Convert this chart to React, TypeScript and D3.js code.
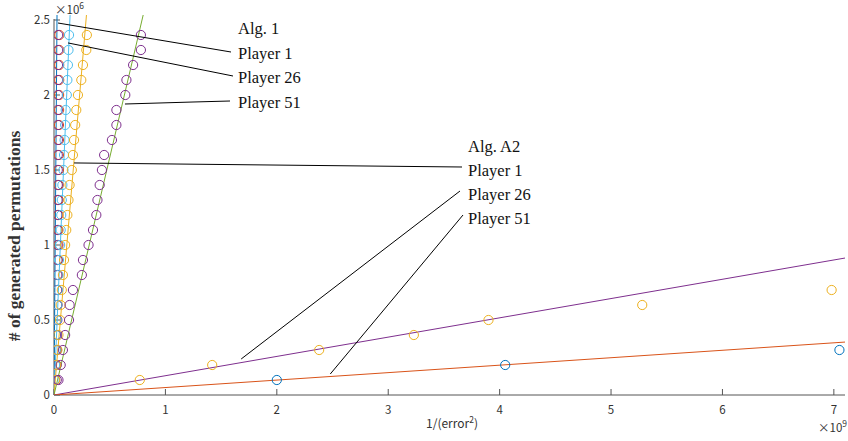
import React from "react";
import * as d3 from "d3";

// ---- data (x in 1e9 units, y in 1e6 units) ----
const alg1Y = [0.1,0.2,0.3,0.4,0.5,0.6,0.7,0.8,0.9,1.0,1.1,1.2,1.3,1.4,1.5,1.6,1.7,1.8,1.9,2.0,2.1,2.2,2.3,2.4];
const alg1RedX = [0.01,0.015,0.02,0.02,0.025,0.03,0.03,0.035,0.035,0.04,0.04,0.04,0.042,0.042,0.044,0.044,0.045,0.045,0.046,0.046,0.047,0.047,0.048,0.048];
const alg1PurpleX = [0.025,0.025,0.028,0.028,0.03,0.03,0.03,0.03,0.032,0.032,0.032,0.033,0.033,0.034,0.034,0.034,0.035,0.035,0.035,0.036,0.036,0.036,0.037,0.037];
const alg1TealX = [0.005,0.01,0.015,0.02,0.025,0.03,0.035,0.04,0.045,0.055,0.06,0.065,0.07,0.075,0.085,0.09,0.095,0.1,0.105,0.115,0.12,0.125,0.13,0.135];
const alg1YellowX = [0.01,0.02,0.03,0.04,0.054,0.06,0.07,0.08,0.09,0.1,0.11,0.12,0.13,0.14,0.16,0.17,0.18,0.19,0.2,0.215,0.245,0.26,0.29,0.295];
const alg1GreenX = [0.04,0.06,0.08,0.1,0.135,0.14,0.17,0.25,0.26,0.31,0.35,0.38,0.39,0.41,0.43,0.45,0.52,0.56,0.56,0.64,0.65,0.71,0.78,0.78];

const a2YellowX = [0.77,1.42,2.38,3.23,3.9,5.28,6.98];
const a2YellowY = [0.1,0.2,0.3,0.4,0.5,0.6,0.7];
const a2BlueX = [2.0,4.05,7.05];
const a2BlueY = [0.1,0.2,0.3];

// fitted lines: x = k * y (Alg. 1), y = m * x (Alg. A2)
const alg1LineSlopes = [0.0107, 0.057, 0.115, 0.316];
const alg1LineColors = ["#0072BD", "#4DBEEE", "#EDB120", "#77AC30"];
const a2LineSlopes = [0.1286, 0.0497];
const a2LineColors = ["#7E2F8E", "#D95319"];

const xTicks = [0,1,2,3,4,5,6,7];
const yTicks = [0,0.5,1,1.5,2,2.5];

const alg1Labels = ["Alg. 1", "Player 1", "Player 26", "Player 51"];
const a2Labels = ["Alg. A2", "Player 1", "Player 26", "Player 51"];

export default function App() {
  const W = 848, H = 441;
  const x = d3.scaleLinear().domain([0, 7.1]).range([54, 845]);
  const y = d3.scaleLinear().domain([0, 2.5]).range([395, 20]);
  const yTop = y.invert(15);

  const circ = (xs: number[], ys: number[], color: string, key: string) =>
    xs.map((v, i) => (
      <circle key={key + i} cx={x(v)} cy={y(ys[i])} r={4.6} fill="none" stroke={color} strokeWidth={1} />
    ));

  const tickFont = "'Noto Sans CJK JP', 'DejaVu Sans', sans-serif";
  const serif = "'Liberation Serif', 'Times New Roman', serif";
  const axisColor = "#555";

  const alg1TextX = 238;
  const alg1Base = [34, 59, 83, 108];
  const a2TextX = 468;
  const a2Base = [152, 176, 200, 224];

  return (
    <svg width={W} height={H} style={{ position: "absolute", left: 0, top: 0, background: "#fff" }}>
      <defs>
        <clipPath id="plot">
          <rect x={54} y={15} width={791} height={380} />
        </clipPath>
      </defs>

      {/* axes */}
      <line x1={54} y1={395} x2={845} y2={395} stroke={axisColor} strokeWidth={1} />
      <line x1={54} y1={395} x2={54} y2={19} stroke={axisColor} strokeWidth={1} />
      {xTicks.map((t) => (
        <g key={"xt" + t}>
          <line x1={x(t)} x2={x(t)} y1={395} y2={389} stroke={axisColor} />
          <text x={x(t)} y={414} fontSize={11.5} fontFamily={tickFont} fill="#333" textAnchor="middle">{t}</text>
        </g>
      ))}
      {yTicks.map((t) => (
        <g key={"yt" + t}>
          <line x1={54} x2={60} y1={y(t)} y2={y(t)} stroke={axisColor} />
          <text x={50} y={y(t) + 4} fontSize={11.5} fontFamily={tickFont} fill="#333" textAnchor="end">{t}</text>
        </g>
      ))}
      <text x={55} y={14} fontSize={11.5} fontFamily={tickFont} fill="#333">
        ×10<tspan dy={-5} fontSize={8.5}>6</tspan>
      </text>
      <text x={818} y={432} fontSize={11.5} fontFamily={tickFont} fill="#333">
        ×10<tspan dy={-5} fontSize={8.5}>9</tspan>
      </text>
      <text x={452} y={428} fontSize={12} fontFamily={tickFont} fill="#333" textAnchor="middle">
        1/(error<tspan dy={-5} fontSize={8.5}>2</tspan><tspan dy={5}>)</tspan>
      </text>
      <text transform={`translate(20,236) rotate(-90)`} fontSize={17.5} fontWeight="bold" fontFamily={serif} fill="#333" textAnchor="middle">
        # of generated permutations
      </text>

      <g clipPath="url(#plot)">
        {alg1LineSlopes.map((k, i) => (
          <line key={"l1" + i} x1={x(0)} y1={y(0)} x2={x(k * yTop)} y2={y(yTop)} stroke={alg1LineColors[i]} strokeWidth={1} />
        ))}
        {a2LineSlopes.map((m, i) => (
          <line key={"l2" + i} x1={x(0)} y1={y(0)} x2={x(7.1)} y2={y(m * 7.1)} stroke={a2LineColors[i]} strokeWidth={1} />
        ))}
        {circ(alg1RedX, alg1Y, "#D95319", "r")}
        {circ(alg1PurpleX, alg1Y, "#7E2F8E", "p")}
        {circ(alg1TealX, alg1Y, "#4DBEEE", "t")}
        {circ(alg1YellowX, alg1Y, "#EDB120", "y")}
        {circ(alg1GreenX, alg1Y, "#7E2F8E", "g")}
        {circ(a2YellowX, a2YellowY, "#EDB120", "ay")}
        {circ(a2BlueX, a2BlueY, "#0072BD", "ab")}
      </g>

      {/* annotations */}
      <g stroke="#000" strokeWidth={1} fill="none">
        <line x1={x(0.036)} y1={y(2.48)} x2={231} y2={52} />
        <line x1={x(0.126)} y1={y(2.347)} x2={233} y2={76} />
        <polyline points={`${x(0.637)},${y(1.94)} 193,102 230,101`} />
        <line x1={x(0.18)} y1={y(1.547)} x2={462} y2={167} />
        <line x1={x(1.68)} y1={y(0.24)} x2={460} y2={191} />
        <line x1={x(2.48)} y1={y(0.14)} x2={463} y2={215} />
      </g>
      {alg1Labels.map((s, i) => (
        <text key={"a1" + i} x={alg1TextX} y={alg1Base[i]} fontSize={16.5} fontFamily={serif} fill="#111">{s}</text>
      ))}
      {a2Labels.map((s, i) => (
        <text key={"a2" + i} x={a2TextX} y={a2Base[i]} fontSize={16.5} fontFamily={serif} fill="#111">{s}</text>
      ))}
    </svg>
  );
}
